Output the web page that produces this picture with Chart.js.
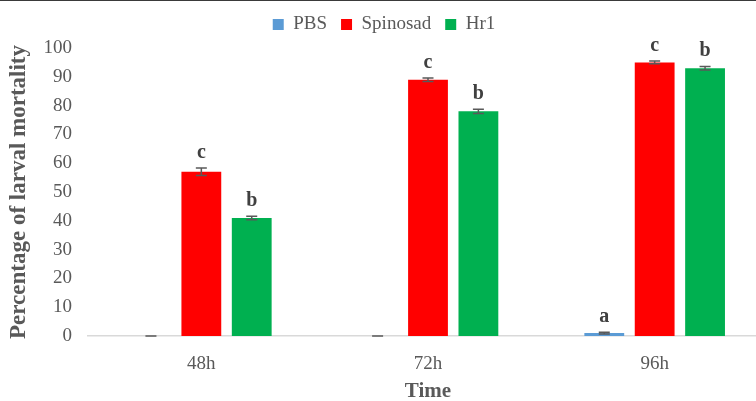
<!DOCTYPE html>
<html>
<head>
<meta charset="utf-8">
<title>Larval mortality</title>
<script src="https://cdn.jsdelivr.net/npm/chart.js@4/dist/chart.umd.min.js"></script>
<style>
body { margin: 0; overflow: hidden; background: #fff; }
#wrap { border-top: 1px solid #3a3a3a; width: 768px; height: 400px; }
</style>
</head>
<body>
<div id="wrap"><canvas id="mortChart" width="768" height="400"></canvas></div>
<script>
// values
var times = ['48h', '72h', '96h'];
var pbs = [0, 0, 1];
var spinosad = [57, 89, 95];
var hr1 = [41, 78, 93];
var pbs_err = [0, 0, 0.3];
var spinosad_err = [1.3, 0.6, 0.5];
var hr1_err = [0.6, 0.7, 0.6];
var pbs_letters = ['', '', 'a'];
var spinosad_letters = ['c', 'c', 'c'];
var hr1_letters = ['b', 'b', 'b'];
var y_ticks = [0, 10, 20, 30, 40, 50, 60, 70, 80, 90, 100];

var serif = "'Liberation Serif', 'DejaVu Serif', serif";

// error bars and significance letters on top of each bar
var errorBarsAndLetters = {
    id: 'errorBarsAndLetters',
    beforeInit: function(chart) {
        // a bit more room under the legend
        var legend = chart.legend;
        if (legend) {
            var origFit = legend.fit;
            legend.fit = function() {
                origFit.call(this);
                this.height += 4;
            };
        }
    },
    afterDatasetsDraw: function(chart) {
        var ctx = chart.ctx;
        var yScale = chart.scales.y;
        ctx.save();
        chart.data.datasets.forEach(function(ds, i) {
            var meta = chart.getDatasetMeta(i);
            meta.data.forEach(function(bar, j) {
                var v = ds.data[j];
                var e = ds.errors[j];
                var yTop = yScale.getPixelForValue(v + e);
                var yBot = yScale.getPixelForValue(Math.max(0, v - e));
                var x = bar.x;
                ctx.strokeStyle = '#595959';
                ctx.lineWidth = 1.5;
                ctx.beginPath();
                ctx.moveTo(x, yTop); ctx.lineTo(x, yBot);
                ctx.moveTo(x - 5.5, yTop); ctx.lineTo(x + 5.5, yTop);
                ctx.moveTo(x - 5.5, yBot); ctx.lineTo(x + 5.5, yBot);
                ctx.stroke();
                var letter = ds.letters[j];
                if (letter) {
                    ctx.fillStyle = '#404040';
                    ctx.font = 'bold 20px ' + serif;
                    ctx.textAlign = 'center';
                    ctx.textBaseline = 'alphabetic';
                    ctx.fillText(letter, x, yTop - 10);
                }
            });
        });
        ctx.restore();
    }
};

var ctx = document.getElementById('mortChart').getContext('2d');
var myChart = new Chart(ctx, {
    type: 'bar',
    data: {
        labels: times,
        datasets: [
            { label: 'PBS', data: pbs, errors: pbs_err, letters: pbs_letters, backgroundColor: '#5b9bd5' },
            { label: 'Spinosad', data: spinosad, errors: spinosad_err, letters: spinosad_letters, backgroundColor: '#ff0000' },
            { label: 'Hr1', data: hr1, errors: hr1_err, letters: hr1_letters, backgroundColor: '#00b050' }
        ]
    },
    options: {
        responsive: false,
        animation: false,
        devicePixelRatio: 1,
        layout: { padding: { top: 0, right: 0, bottom: 0, left: 0 } },
        datasets: {
            bar: { categoryPercentage: 0.667, barPercentage: 0.79 }
        },
        plugins: {
            legend: {
                position: 'top',
                labels: {
                    boxWidth: 11,
                    boxHeight: 11,
                    padding: 14,
                    color: '#595959',
                    font: { family: serif, size: 19 }
                }
            },
            tooltip: { enabled: false }
        },
        scales: {
            x: {
                grid: { display: false, drawTicks: false },
                border: { display: true, color: '#d9d9d9', width: 1.5 },
                ticks: { color: '#595959', padding: 17, font: { family: serif, size: 19 } },
                title: {
                    display: true, text: 'Time', color: '#595959',
                    font: { family: serif, size: 21, weight: 'bold', lineHeight: 0.85 },
                    padding: { top: 0, bottom: 0 }
                },
                afterFit: function(scale) { scale.height = 65; }
            },
            y: {
                min: 0,
                max: 100,
                grid: { display: false, drawTicks: false },
                border: { display: false },
                afterBuildTicks: function(scale) {
                    scale.ticks = y_ticks.map(function(v) { return { value: v }; });
                },
                ticks: { color: '#595959', padding: 16, font: { family: serif, size: 19 } },
                title: {
                    display: true, text: 'Percentage of larval mortality', color: '#595959',
                    font: { family: serif, size: 23, weight: 'bold', lineHeight: 1 },
                    padding: { top: 8, bottom: 0 }
                },
                afterFit: function(scale) { scale.width = 88; }
            }
        }
    },
    plugins: [errorBarsAndLetters]
});
</script>
</body>
</html>
